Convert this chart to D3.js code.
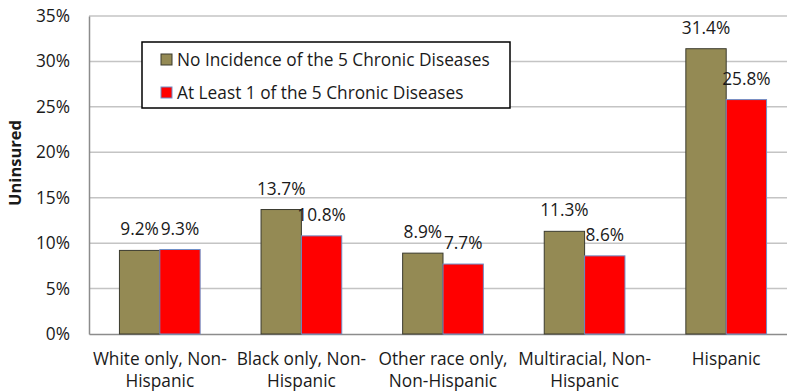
<!DOCTYPE html>
<html><head><meta charset="utf-8">
<script src="https://cdn.jsdelivr.net/npm/d3@7"></script>
<style>html,body{margin:0;padding:0;background:#fff;}svg{display:block;font-family:"Open Sans",sans-serif;}</style>
</head><body>
<div id="chart"></div>
<script>
const categories = [["White only, Non-","Hispanic"],["Black only, Non-","Hispanic"],["Other race only,","Non-Hispanic"],["Multiracial, Non-","Hispanic"],["Hispanic"]];
const seriesNames = ["No Incidence of the 5 Chronic Diseases","At Least 1 of the 5 Chronic Diseases"];
const noIncidence = [9.2, 13.7, 8.9, 11.3, 31.4];
const atLeastOne = [9.3, 10.8, 7.7, 8.6, 25.8];
const yTicks = [0,5,10,15,20,25,30,35];
const colors = ["#948A54","#FF0000"];
const strokes = ["#3b3b2e","#6f8fc8"];

(function(){
const W=787,H=391;
const svg=d3.select("#chart").append("svg").attr("width",W).attr("height",H);
const mLeft=89, mRight=797, mTop=16, mBottom=334;
const x=d3.scaleBand().domain(d3.range(categories.length)).range([mLeft,mRight]).paddingInner(0).paddingOuter(0);
const bw=x.bandwidth()*0.57/2;
const y=d3.scaleLinear().domain([0,35]).range([mBottom,mTop]);
const fs=17.3;

// gridlines
svg.append("g").selectAll("line").data(yTicks.filter(d=>d>0)).join("line")
 .attr("x1",mLeft).attr("x2",W).attr("y1",d=>y(d)).attr("y2",d=>y(d))
 .attr("stroke","#c4c4c4").attr("stroke-width",1.5);

// y axis
const ya=svg.append("g").attr("transform",`translate(${mLeft},0)`)
 .call(d3.axisLeft(y).tickValues(yTicks).tickFormat(d=>d+"%").tickSize(0).tickPadding(19));
ya.select(".domain").attr("stroke","#8c8c8c").attr("stroke-width",1.5);
ya.selectAll("text").attr("font-size",fs).attr("fill","#1a1a1a").attr("font-family","Open Sans");

// x axis
const xa=svg.append("g").attr("transform",`translate(0,${mBottom})`)
 .call(d3.axisBottom(x).tickSize(0).tickFormat(""));
xa.select(".domain").attr("stroke","#8c8c8c").attr("stroke-width",1.5);

const series=[noIncidence,atLeastOne];
series.forEach((vals,si)=>{
  const g=svg.append("g");
  const bx=i=>x(i)+x.bandwidth()/2+(si===0?-bw:0);
  g.selectAll("rect").data(vals).join("rect")
   .attr("x",(d,i)=>bx(i)).attr("width",bw)
   .attr("y",d=>y(d)).attr("height",d=>y(0)-y(d))
   .attr("fill",colors[si]).attr("stroke",strokes[si]).attr("stroke-width",1);
  g.selectAll("text").data(vals).join("text")
   .attr("x",(d,i)=>bx(i)+bw/2).attr("y",d=>y(d)-15)
   .attr("text-anchor","middle").attr("font-size",fs).attr("fill","#1a1a1a")
   .text(d=>d.toFixed(1)+"%");
});

// category labels
const cl=svg.append("g");
categories.forEach((lines,i)=>{
  const t=cl.append("text").attr("text-anchor","middle").attr("font-size",fs).attr("fill","#1a1a1a");
  lines.forEach((ln,j)=>{
    t.append("tspan").attr("x",x(i)+x.bandwidth()/2).attr("y",365+j*22).text(ln);
  });
});

// y title
svg.append("text").attr("transform","translate(21,163) rotate(-90)")
 .attr("text-anchor","middle").attr("font-size",16.5).attr("font-weight","bold").attr("fill","#1a1a1a").text("Uninsured");

// legend
const lg=svg.append("g");
lg.append("rect").attr("x",142).attr("y",42).attr("width",368).attr("height",66)
 .attr("fill","#fff").attr("stroke","#000").attr("stroke-width",1.5);
seriesNames.forEach((n,i)=>{
  const cy=59.5+i*33;
  lg.append("rect").attr("x",161).attr("y",cy-5.5).attr("width",11).attr("height",11)
   .attr("fill",colors[i]).attr("stroke",strokes[i]).attr("stroke-width",1);
  lg.append("text").attr("x",177).attr("y",cy+6).attr("font-size",fs).attr("fill","#1a1a1a").text(n);
});
})();
</script>
</body></html>
